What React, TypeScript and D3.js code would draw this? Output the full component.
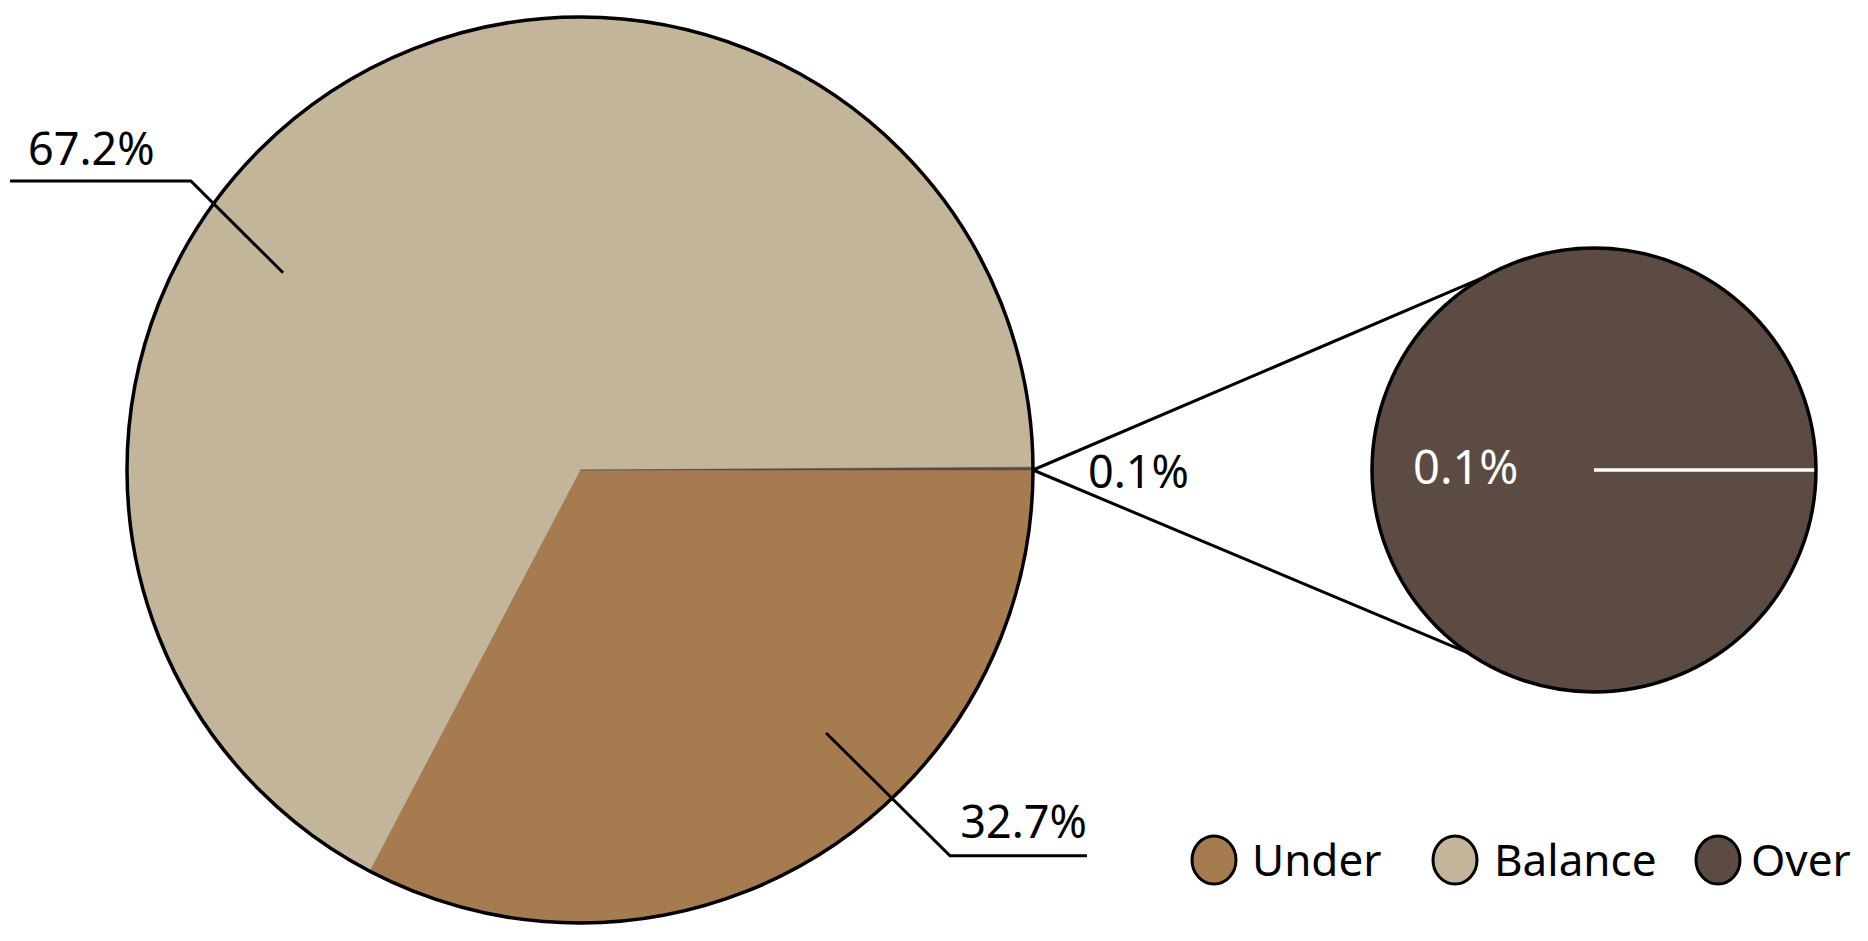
import React from "react";
import * as d3 from "d3";

const categories = ["Under", "Balance", "Over"];
const values = [32.7, 67.2, 0.1];
const labels = ["32.7%", "67.2%", "0.1%"];
const colors = ["#A67B50", "#C3B59A", "#5B4B42"];

const W = 1868;
const H = 941;
const FONT = "'Noto Sans', 'Open Sans', sans-serif";

const main = { cx: 580, cy: 470, r: 453 };
const small = { cx: 1594, cy: 470, r: 222 };

// leader geometry (angles in degrees, d3 convention: clockwise from 12 o'clock)
const leaders = [
  { idx: 0, a1: 136.9, r1: 0.795, a2: 136.2, r2: 1.18, xEnd: 1087, anchor: "end", tx: 1087, ty: 838 },
  { idx: 1, a1: 303.6, r1: 0.787, a2: 306.6, r2: 1.07, xEnd: 10, anchor: "start", tx: 28, ty: 165 },
];

const legendItems = [
  { idx: 0, cx: 1214, tx: 1252 },
  { idx: 1, cx: 1455, tx: 1494 },
  { idx: 2, cx: 1718, tx: 1751 },
];

function polar(cx: number, cy: number, a: number, r: number): [number, number] {
  const rad = (a * Math.PI) / 180;
  return [cx + r * Math.sin(rad), cy - r * Math.cos(rad)];
}

export default function App() {
  const pie = d3
    .pie<number>()
    .sort(null)
    .value((d) => d)
    .startAngle(Math.PI / 2)
    .endAngle(Math.PI / 2 + 2 * Math.PI);
  const arcs = pie(values);
  const arcGen = d3.arc<d3.PieArcDatum<number>>().innerRadius(0).outerRadius(main.r);

  const smallPie = d3.pie<number>().sort(null).value((d) => d).startAngle(Math.PI / 2).endAngle(Math.PI / 2 + 2 * Math.PI);
  const smallArcs = smallPie([values[2]]);
  const smallArcGen = d3.arc<d3.PieArcDatum<number>>().innerRadius(0).outerRadius(small.r);

  const overArc = arcs[2];
  const [px, py] = polar(main.cx, main.cy, (overArc.endAngle * 180) / Math.PI, main.r);
  const [ux, uy] = polar(small.cx, small.cy, 330, small.r);
  const [lx, ly] = polar(small.cx, small.cy, 214.5, small.r);
  const [wx, wy] = polar(small.cx, small.cy, (smallArcs[0].startAngle * 180) / Math.PI, small.r);

  return (
    <svg width={W} height={H} style={{ position: "absolute", left: 0, top: 0, background: "#fff" }}>
      <g transform={`translate(${main.cx},${main.cy})`}>
        {arcs.map((a, i) => (
          <path key={i} d={arcGen(a) || ""} fill={colors[i]} stroke={colors[i]} strokeWidth={0.5} />
        ))}
      </g>
      <circle cx={main.cx} cy={main.cy} r={main.r} fill="none" stroke="#000" strokeWidth={3.5} />

      <g transform={`translate(${small.cx},${small.cy})`}>
        {smallArcs.map((a, i) => (
          <path key={i} d={smallArcGen(a) || ""} fill={colors[2]} />
        ))}
      </g>
      <line x1={small.cx} y1={small.cy} x2={wx} y2={wy} stroke="#fff" strokeWidth={3.5} />
      <circle cx={small.cx} cy={small.cy} r={small.r} fill="none" stroke="#000" strokeWidth={3.5} />

      <line x1={px} y1={py} x2={ux} y2={uy} stroke="#000" strokeWidth={3} />
      <line x1={px} y1={py} x2={lx} y2={ly} stroke="#000" strokeWidth={3} />

      {leaders.map((l, i) => {
        const [x1, y1] = polar(main.cx, main.cy, l.a1, l.r1 * main.r);
        const [x2, y2] = polar(main.cx, main.cy, l.a2, l.r2 * main.r);
        return (
          <g key={i}>
            <polyline points={`${x1},${y1} ${x2},${y2} ${l.xEnd},${y2}`} fill="none" stroke="#000" strokeWidth={3} />
            <text x={l.tx} y={l.ty} textAnchor={l.anchor as any} fontFamily={FONT} fontSize={45} fill="#000">
              {labels[l.idx]}
            </text>
          </g>
        );
      })}

      <text x={1088} y={488} fontFamily={FONT} fontSize={45} fill="#000">{labels[2]}</text>
      <text x={1413} y={484} fontFamily={FONT} fontSize={47} fill="#fff">{labels[2]}</text>

      {legendItems.map((it, i) => (
        <g key={i}>
          <ellipse cx={it.cx} cy={860} rx={22} ry={24} fill={colors[it.idx]} stroke="#000" strokeWidth={3} />
          <text x={it.tx} y={876} fontFamily={FONT} fontSize={44} fill="#000">
            {categories[it.idx]}
          </text>
        </g>
      ))}
    </svg>
  );
}
